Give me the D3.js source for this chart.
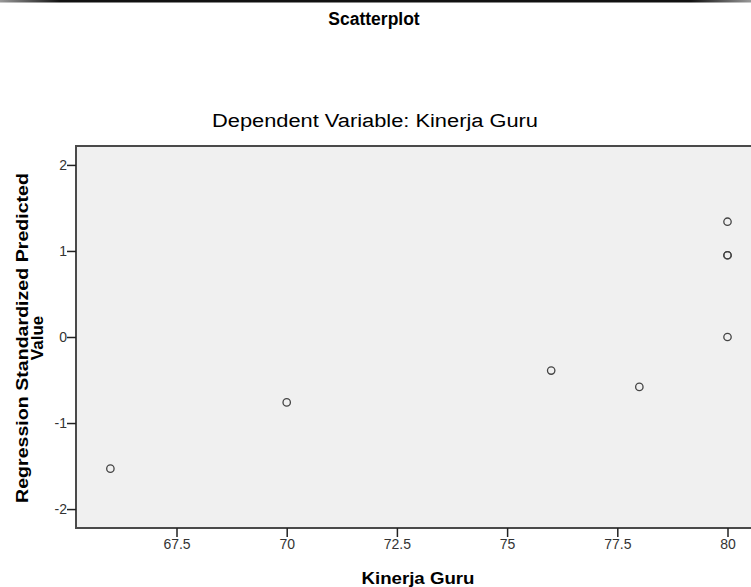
<!DOCTYPE html>
<html>
<head>
<meta charset="utf-8">
<script src="https://cdn.jsdelivr.net/npm/d3@7"></script>
<style>
  body { margin: 0; background: #fff; }
  svg { display: block; font-family: "Liberation Sans", Arial, sans-serif; }
</style>
</head>
<body>
<svg width="751" height="587"></svg>
<script>
var kinerjaGuru = [66, 70, 76, 78, 80, 80, 80, 80];
var predicted = [-1.53, -0.76, -0.39, -0.58, 1.34, 0.95, 0.95, 0];
var xTicks = [67.5, 70, 72.5, 75, 77.5, 80];
var yTicks = [-2, -1, 0, 1, 2];

main();

function main() {
  var svg = d3.select("svg"),
    margin = { top: 146, right: -4, bottom: 59, left: 76 },
    width = +svg.attr("width") - margin.left - margin.right,
    height = +svg.attr("height") - margin.top - margin.bottom;

  // separator line on top
  var grad = svg.append("defs").append("linearGradient").attr("id", "topline");
  grad.append("stop").attr("offset", "0%").attr("stop-color", "#999");
  grad.append("stop").attr("offset", "8%").attr("stop-color", "#111");
  grad.append("stop").attr("offset", "92%").attr("stop-color", "#111");
  grad.append("stop").attr("offset", "100%").attr("stop-color", "#999");
  svg.append("rect").attr("x", 0).attr("y", 0).attr("width", 751).attr("height", 2.5)
    .style("fill", "url(#topline)");

  svg.append("text")
    .attr("x", 374).attr("y", 25)
    .attr("text-anchor", "middle")
    .style("font-size", "17.5px").style("font-weight", "bold")
    .text("Scatterplot");

  svg.append("text")
    .attr("x", 375).attr("y", 127)
    .attr("text-anchor", "middle")
    .attr("textLength", 326).attr("lengthAdjust", "spacingAndGlyphs")
    .style("font-size", "18px")
    .text("Dependent Variable: Kinerja Guru");

  var x = d3.scaleLinear()
    .domain([65.22, 65.22 + width / 44.08])
    .range([0, width]);

  var y = d3.scaleLinear()
    .domain([-2.22, 2.22])
    .range([height, 0]);

  var g = svg.append("g").attr("transform", "translate(" + margin.left + "," + margin.top + ")");

  g.append("rect")
    .attr("width", width).attr("height", height)
    .style("fill", "#f0f0f0")
    .style("stroke", "#4a4a4a").style("stroke-width", 2);

  var xAxis = g.append("g")
    .attr("class", "axis axis--x")
    .attr("transform", "translate(0," + height + ")")
    .call(d3.axisBottom(x).tickValues(xTicks).tickSize(9).tickPadding(2)
      .tickFormat(function(d) { return d % 1 ? d3.format(".1f")(d) : d; }));
  xAxis.select(".domain").remove();

  var yAxis = g.append("g")
    .attr("class", "axis axis--y")
    .call(d3.axisLeft(y).tickValues(yTicks).tickSize(9).tickPadding(0)
      .tickFormat(function(d) { return d < 0 ? "-" + (-d) : "" + d; }));
  yAxis.select(".domain").remove();

  svg.selectAll(".axis").attr("font-size", 14)
    .attr("font-family", "'Liberation Sans', Arial, sans-serif");
  svg.selectAll(".axis text").style("fill", "#333");
  svg.selectAll(".axis line").style("stroke", "#222").style("stroke-width", 1.5);

  g.selectAll(".dot")
    .data(kinerjaGuru)
    .enter()
    .append("circle")
    .attr("class", "dot")
    .attr("cx", function(d) { return x(d); })
    .attr("cy", function(d, i) { return y(predicted[i]); })
    .attr("r", 3.7)
    .style("fill", "none")
    .style("stroke", "#444")
    .style("stroke-width", 1.3);

  svg.append("text")
    .attr("x", 418).attr("y", 584)
    .attr("text-anchor", "middle")
    .attr("textLength", 113).attr("lengthAdjust", "spacingAndGlyphs")
    .style("font-size", "17px").style("font-weight", "bold")
    .text("Kinerja Guru");

  var yl = svg.append("text")
    .attr("transform", "translate(0,338) rotate(-90)")
    .attr("text-anchor", "middle")
    .style("font-size", "17px").style("font-weight", "bold");
  yl.append("tspan").attr("x", 0).attr("y", 28)
    .attr("textLength", 330).attr("lengthAdjust", "spacingAndGlyphs")
    .text("Regression Standardized Predicted");
  yl.append("tspan").attr("x", 0).attr("y", 43).text("Value");
}
</script>
</body>
</html>
